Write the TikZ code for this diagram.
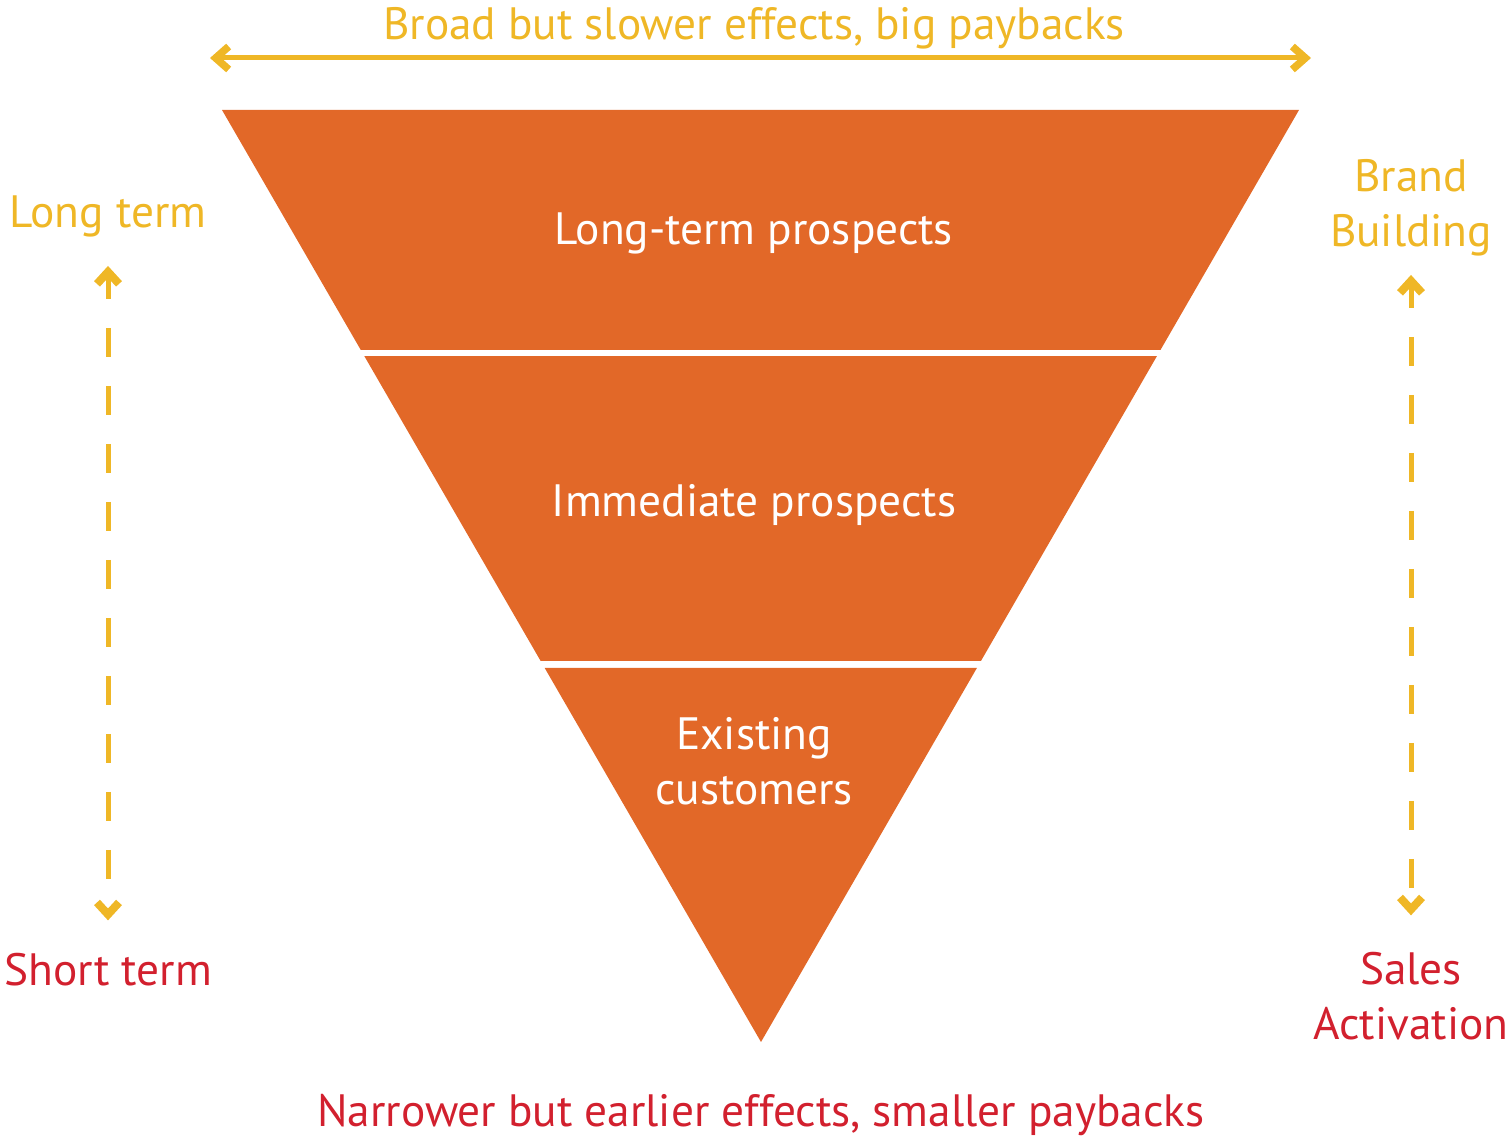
\documentclass[tikz,border=0pt]{standalone}
\usepackage{fontspec}
\setmainfont{PT Sans}
\usetikzlibrary{arrows.meta,calc,positioning}
\definecolor{funnelOrange}{RGB}{226,104,40}
\definecolor{brandYellow}{RGB}{239,183,38}
\definecolor{salesRed}{RGB}{210,32,46}
\tikzset{
  funnelBand/.style={
    fill=funnelOrange,
    draw=none
  },
  bandText/.style={
    text=white,
    font=\fontsize{25.8}{31.3}\selectfont,
    align=center,
    inner sep=0pt
  },
  sideText/.style={
    font=\fontsize{25.8}{31.3}\selectfont,
    align=center,
    inner sep=0pt
  },
  spanArrow/.style={
    {Straight Barb[length=0.26cm,width=0.46cm,line width=0.15cm]}-{Straight Barb[length=0.26cm,width=0.46cm,line width=0.15cm]},
    line width=0.1cm,
    draw=brandYellow
  },
  dashArrow/.style={
    {Straight Barb[length=0.24cm,width=0.44cm,line width=0.16cm]}-{Straight Barb[length=0.24cm,width=0.44cm,line width=0.16cm]},
    line width=0.1cm,
    draw=brandYellow,
    dash pattern=on 0.58cm off 0.58cm,
    dash phase=0.12cm
  }
}

\begin{document}
\begin{tikzpicture}
    \useasboundingbox (0,0) rectangle (30.18,-22.76);
    \coordinate (tl) at (4.44,-2.2);
    \coordinate (tr) at (25.98,-2.2);
    \coordinate (apex) at (15.22,-20.84);

    % funnel
    \fill[funnelBand] (tl) -- (tr) -- ($(tr)!0.2575!(apex)$) -- ($(tl)!0.2575!(apex)$) -- cycle;
    \fill[funnelBand] ($(tl)!0.264!(apex)$) -- ($(tr)!0.264!(apex)$) -- ($(tr)!0.5912!(apex)$) -- ($(tl)!0.5912!(apex)$) -- cycle;
    \fill[funnelBand] ($(tl)!0.5987!(apex)$) -- ($(tr)!0.5987!(apex)$) -- (apex) -- cycle;

    \node[bandText, anchor=base] (prospectsLong) at (15.08,-4.9) {Long-term prospects};
    \node[bandText, anchor=base] (prospectsNow) at (15.08,-10.34) {Immediate prospects};
    \node[bandText, anchor=base] (customers) at (15.08,-16.1) {Existing\\customers};

    % top and bottom notes
    \node[sideText, text=brandYellow, anchor=base] (topNote) at (15.08,-0.8) {Broad but slower effects, big paybacks};
    \node[sideText, text=salesRed, anchor=base] (bottomNote) at (15.22,-22.54) {Narrower but earlier effects, smaller paybacks};
    \coordinate (spanL) at (4.2,-1.16);
    \coordinate (spanR) at (26.22,-1.16);
    \draw[spanArrow] (spanL) -- (spanR);

    % side scales
    \node[sideText, text=brandYellow, anchor=base] (longTerm) at (2.16,-4.56) {Long term};
    \node[sideText, text=salesRed, anchor=base] (shortTerm) at (2.16,-19.72) {Short term};
    \node[sideText, text=brandYellow, anchor=base] (brand) at (28.22,-4.94) {Brand\\Building};
    \node[sideText, text=salesRed, anchor=base] (sales) at (28.22,-20.8) {Sales\\Activation};

    \draw[dashArrow, shorten <=0.56cm, shorten >=0.66cm] (longTerm.south) -- (shortTerm.north);
    \draw[dashArrow, shorten <=0.36cm, shorten >=0.74cm] (brand.south) -- (sales.north);
\end{tikzpicture}
\end{document}
